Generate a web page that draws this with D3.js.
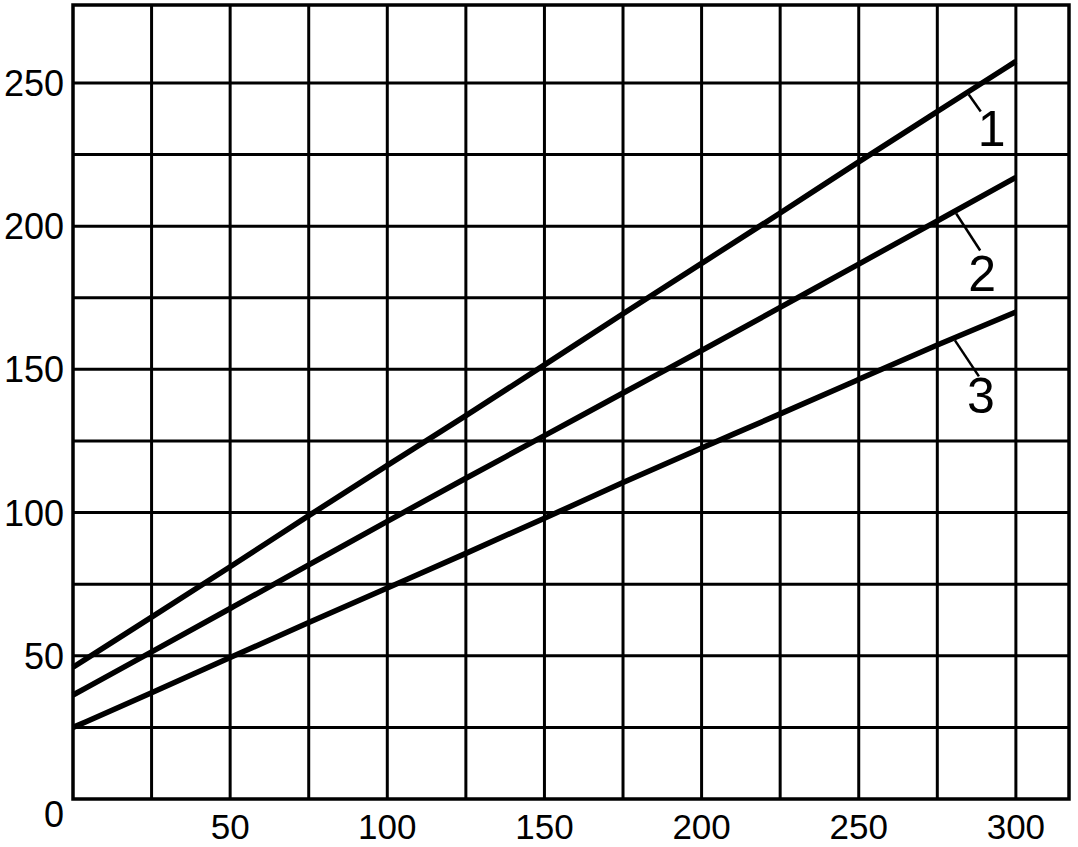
<!DOCTYPE html>
<html>
<head>
<meta charset="utf-8">
<script src="https://cdn.jsdelivr.net/npm/d3@7"></script>
<style>
  html, body { margin: 0; padding: 0; background: #fff; }
  svg { display: block; }
  text { font-family: "Liberation Sans", Arial, sans-serif; fill: #000; }
</style>
</head>
<body>
<svg id="chart" width="1078" height="847"></svg>
<script>
// ---- data ----
const xValues = [0, 25, 50, 75, 100, 125, 150, 175, 200, 225, 250, 275, 300];
const series1 = [46, 63.5, 81, 99, 116.5, 133.8, 151.5, 169.5, 187, 204.5, 222.5, 240, 257.5];
const series2 = [36.3, 51.3, 66.5, 81.7, 97, 112, 126.8, 141.8, 156.5, 171.6, 186.8, 201.8, 217];
const series3 = [25, 37, 49.4, 61.6, 73.7, 85.7, 98, 110.6, 122.6, 134.4, 146.5, 158.6, 170];
const seriesNames = ["1", "2", "3"];
const xTickLabels = [50, 100, 150, 200, 250, 300];
const yTickLabels = [50, 100, 150, 200, 250];
const originLabel = "0";
const xGrid = [25, 50, 75, 100, 125, 150, 175, 200, 225, 250, 275, 300];
const yGrid = [25, 50, 75, 100, 125, 150, 175, 200, 225, 250];
const labelAnchorX = [285, 281, 280.6];

// ---- layout ----
const svg = d3.select("#chart");
const x = d3.scaleLinear().domain([0, 316.9]).range([73, 1069]);
const y = d3.scaleLinear().domain([0, 277.2]).range([799, 5]);

// grid
svg.append("g").selectAll("line").data(xGrid).join("line")
  .attr("x1", d => x(d)).attr("x2", d => x(d))
  .attr("y1", y.range()[0]).attr("y2", y.range()[1])
  .attr("stroke", "#000").attr("stroke-width", 3);
svg.append("g").selectAll("line").data(yGrid).join("line")
  .attr("y1", d => y(d)).attr("y2", d => y(d))
  .attr("x1", x.range()[0]).attr("x2", x.range()[1])
  .attr("stroke", "#000").attr("stroke-width", 3);

// frame
svg.append("rect")
  .attr("x", x.range()[0]).attr("y", y.range()[1])
  .attr("width", x.range()[1] - x.range()[0])
  .attr("height", y.range()[0] - y.range()[1])
  .attr("fill", "none").attr("stroke", "#000").attr("stroke-width", 3.5);

// curves
const allSeries = [series1, series2, series3];
const line = d3.line()
  .x((d, i) => x(xValues[i]))
  .y(d => y(d))
  .curve(d3.curveBasis);
svg.append("g").selectAll("path").data(allSeries).join("path")
  .attr("d", d => line(d))
  .attr("fill", "none").attr("stroke", "#000").attr("stroke-width", 5.5)
  .attr("stroke-linecap", "butt");

// leader lines + labels
const interp = (s, xv) => {
  const i = Math.min(Math.floor(xv / 25), xValues.length - 2);
  const t = (xv - xValues[i]) / 25;
  return s[i] + (s[i + 1] - s[i]) * t;
};
const leaderOff = [[12, 17], [24, 37], [24, 36]];
const labelOff = [[23, 51], [26, 77], [26, 73]];
allSeries.forEach((s, k) => {
  const px = x(labelAnchorX[k]);
  const py = y(interp(s, labelAnchorX[k])) + 3;
  svg.append("line")
    .attr("x1", px).attr("y1", py)
    .attr("x2", px + leaderOff[k][0]).attr("y2", py + leaderOff[k][1])
    .attr("stroke", "#000").attr("stroke-width", 2.5);
  svg.append("text")
    .attr("x", px + labelOff[k][0]).attr("y", py + labelOff[k][1])
    .attr("text-anchor", "middle")
    .attr("font-size", 50)
    .text(seriesNames[k]);
});

// tick labels
svg.append("g").selectAll("text").data(xTickLabels).join("text")
  .attr("x", d => x(d)).attr("y", 839)
  .attr("text-anchor", "middle").attr("font-size", 35)
  .text(d => d);
svg.append("g").selectAll("text").data(yTickLabels).join("text")
  .attr("x", 64).attr("y", d => y(d) + 13)
  .attr("text-anchor", "end").attr("font-size", 36)
  .text(d => d);
svg.append("text")
  .attr("x", 64).attr("y", y(0) + 28)
  .attr("text-anchor", "end").attr("font-size", 36)
  .text(originLabel);
</script>
</body>
</html>
